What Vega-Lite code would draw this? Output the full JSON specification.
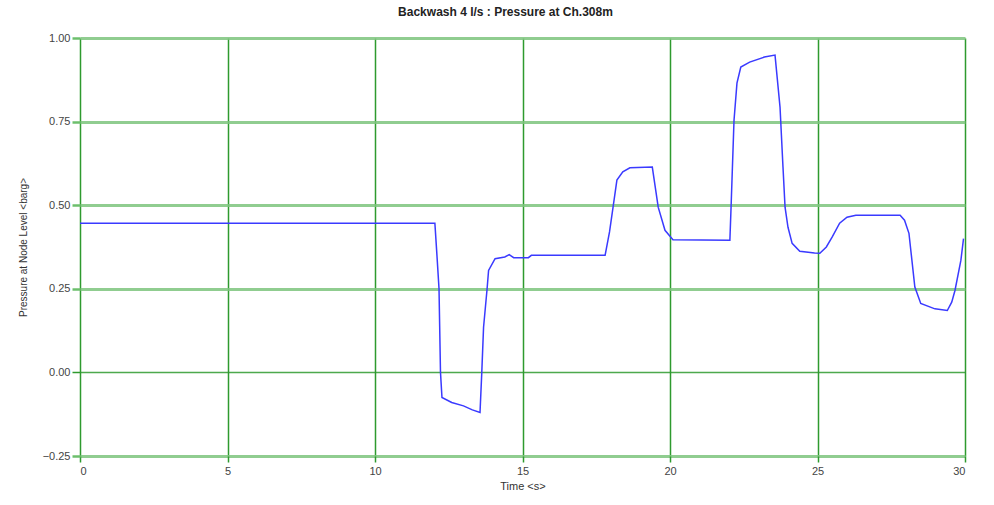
{
  "$schema": "https://vega.github.io/schema/vega-lite/v6.json",
  "width": 885,
  "height": 418,
  "autosize": {"type": "none"},
  "padding": {"left": 80, "top": 38, "right": 29, "bottom": 49},
  "background": "white",
  "title": {
    "text": "Backwash 4 l/s : Pressure at Ch.308m",
    "fontSize": 12,
    "font": "Liberation Sans",
    "fontWeight": "bold",
    "color": "#222222",
    "offset": 13,
    "dx": -17
  },
  "data": {
    "values": [
      {"t": 0, "p": 0.446},
      {"t": 12.03, "p": 0.446},
      {"t": 12.1, "p": 0.35},
      {"t": 12.17, "p": 0.25},
      {"t": 12.22, "p": 0.0},
      {"t": 12.27, "p": -0.075},
      {"t": 12.6, "p": -0.09},
      {"t": 13.0, "p": -0.1},
      {"t": 13.3, "p": -0.112},
      {"t": 13.56, "p": -0.12},
      {"t": 13.62, "p": 0.0},
      {"t": 13.68, "p": 0.135},
      {"t": 13.8, "p": 0.25},
      {"t": 13.85, "p": 0.305},
      {"t": 14.07, "p": 0.34},
      {"t": 14.4, "p": 0.345},
      {"t": 14.55, "p": 0.352},
      {"t": 14.7, "p": 0.343},
      {"t": 15.2, "p": 0.343},
      {"t": 15.3, "p": 0.35},
      {"t": 17.8, "p": 0.35},
      {"t": 17.95, "p": 0.42},
      {"t": 18.07, "p": 0.494},
      {"t": 18.2, "p": 0.575},
      {"t": 18.4, "p": 0.6},
      {"t": 18.64, "p": 0.612},
      {"t": 19.4, "p": 0.614},
      {"t": 19.6, "p": 0.494},
      {"t": 19.83, "p": 0.425},
      {"t": 20.1, "p": 0.397},
      {"t": 22.03, "p": 0.395},
      {"t": 22.07, "p": 0.494},
      {"t": 22.17, "p": 0.754},
      {"t": 22.27, "p": 0.865},
      {"t": 22.4, "p": 0.913},
      {"t": 22.7, "p": 0.928},
      {"t": 23.2, "p": 0.943},
      {"t": 23.56, "p": 0.949},
      {"t": 23.73, "p": 0.793},
      {"t": 23.83, "p": 0.614},
      {"t": 23.9, "p": 0.494},
      {"t": 24.0, "p": 0.434},
      {"t": 24.14, "p": 0.386},
      {"t": 24.4, "p": 0.362},
      {"t": 24.9, "p": 0.357},
      {"t": 25.08, "p": 0.356},
      {"t": 25.3, "p": 0.375},
      {"t": 25.5, "p": 0.405},
      {"t": 25.75, "p": 0.446},
      {"t": 26.0, "p": 0.464},
      {"t": 26.3, "p": 0.47},
      {"t": 27.8, "p": 0.47},
      {"t": 27.95, "p": 0.455},
      {"t": 28.1, "p": 0.416},
      {"t": 28.3, "p": 0.255},
      {"t": 28.5, "p": 0.206},
      {"t": 28.98, "p": 0.19},
      {"t": 29.4, "p": 0.185},
      {"t": 29.55, "p": 0.21},
      {"t": 29.66, "p": 0.245},
      {"t": 29.86, "p": 0.335},
      {"t": 29.95, "p": 0.4}
    ]
  },
  "mark": {"type": "line", "color": "#3a3aff", "strokeWidth": 1.5, "interpolate": "linear"},
  "encoding": {
    "x": {
      "field": "t",
      "type": "quantitative",
      "title": "Time <s>",
      "scale": {"domain": [0, 30], "nice": false, "zero": false},
      "axis": {
        "values": [0, 5, 10, 15, 20, 25, 30],
        "format": "d",
        "grid": true,
        "gridColor": "#2e9a2e",
        "gridWidth": 1.5,
        "gridOpacity": 1,
        "domain": false,
        "ticks": true,
        "tickColor": "#2e9a2e",
        "tickSize": 6,
        "tickWidth": 1.5,
        "labelFont": "Liberation Sans",
        "labelFontSize": 11,
        "labelColor": "#444444",
        "labelPadding": 3,
        "titleFont": "Liberation Sans",
        "titleFontSize": 11,
        "titleFontWeight": "normal",
        "titleColor": "#333333",
        "titlePadding": 4
      }
    },
    "y": {
      "field": "p",
      "type": "quantitative",
      "title": "Pressure at Node Level <barg>",
      "scale": {"domain": [-0.25, 1.0], "nice": false, "zero": false},
      "axis": {
        "values": [-0.25, 0, 0.25, 0.5, 0.75, 1.0],
        "format": ".2f",
        "grid": true,
        "gridColor": {"condition": {"test": "datum.value === 0", "value": "#2e9a2e"}, "value": "#7cc47c"},
        "gridWidth": {"condition": {"test": "datum.value === 0", "value": 1.5}, "value": 3},
        "gridOpacity": 0.85,
        "domain": false,
        "ticks": true,
        "tickColor": {"condition": {"test": "datum.value === 0", "value": "#2e9a2e"}, "value": "#6cbf6c"},
        "tickSize": 8,
        "tickWidth": {"condition": {"test": "datum.value === 0", "value": 1.5}, "value": 2.5},
        "labelFont": "Liberation Sans",
        "labelFontSize": 11,
        "labelColor": "#444444",
        "labelPadding": 2,
        "titleFont": "Liberation Sans",
        "titleFontSize": 10,
        "titleFontWeight": "normal",
        "titleColor": "#333333",
        "titlePadding": 14
      }
    }
  },
  "config": {
    "view": {"stroke": null}
  }
}
